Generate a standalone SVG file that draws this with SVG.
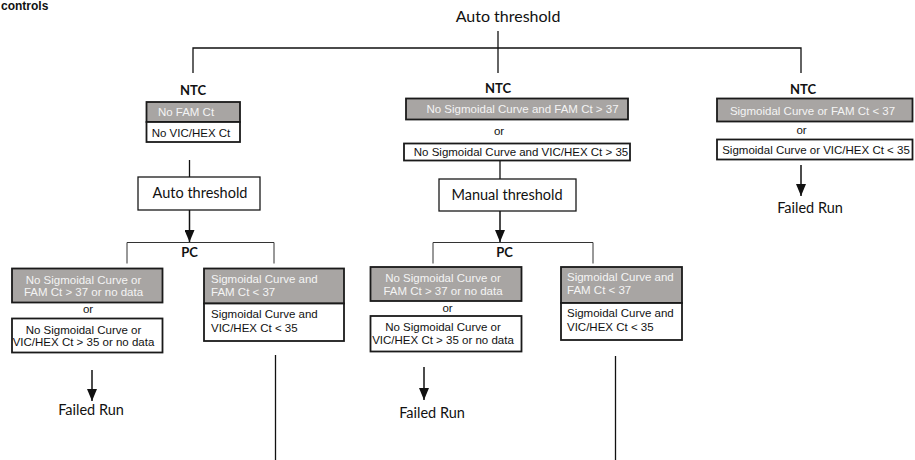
<svg xmlns="http://www.w3.org/2000/svg" width="915" height="460" viewBox="0 0 915 460">
<style>
.bg{fill:#ffffff}
.g{fill:#a8a5a3;stroke:#1a1a1a;stroke-width:1.8}
.w{fill:#ffffff;stroke:#1a1a1a;stroke-width:1.8}
.tb{fill:#ffffff;stroke:#1a1a1a;stroke-width:1.3}
.ta{font-family:"Liberation Sans",Arial,sans-serif;font-size:11.5px;fill:#111111}
.tg{font-family:"Liberation Sans",Arial,sans-serif;font-size:11.5px;fill:#f4f4f4}
.tc{font-family:Lato,"Open Sans",sans-serif;font-size:14.5px;fill:#111111}
.hb{font-family:Lato,"Open Sans",sans-serif;font-size:13px;font-weight:bold;fill:#111111}
.ln{fill:none;stroke:#111111;stroke-width:1.3}
.br{fill:none;stroke:#333333;stroke-width:1}
.ar{fill:none;stroke:#111111;stroke-width:1.5;marker-end:url(#ah)}
</style>
<defs>
<marker id="ah" viewBox="0 0 12 10" markerWidth="12" markerHeight="10" refX="12" refY="5" orient="auto" markerUnits="userSpaceOnUse">
<path d="M0,0 L12,5 L0,10 z" fill="#111111"/>
</marker>
</defs>
<rect class="bg" x="0" y="0" width="915" height="460"/>
<text x="1" y="10" style="font-family:'Liberation Sans',Arial,sans-serif;font-size:12px;font-weight:bold;fill:#111">controls</text>

<g id="connectors">
<line class="ln" x1="498" y1="31" x2="498" y2="73"/>
<path class="ln" d="M193,73 V48 H801 V73"/>
<line class="ln" x1="189.5" y1="160" x2="189.5" y2="177"/>
<line class="ar" x1="189.5" y1="210" x2="189.5" y2="242"/>
<path class="br" d="M127,263.5 V242.5 H274 V263.5"/>
<line class="ar" x1="92" y1="370" x2="92" y2="401"/>
<line class="ln" x1="275.5" y1="355" x2="275.5" y2="460"/>
<line class="ln" x1="500" y1="160.5" x2="500" y2="179"/>
<line class="ar" x1="500" y1="211" x2="500" y2="242"/>
<path class="br" d="M433,263.5 V242.5 H593 V263.5"/>
<line class="ar" x1="424" y1="367" x2="424" y2="400"/>
<line class="ln" x1="615.5" y1="356" x2="615.5" y2="460"/>
<line class="ar" x1="801" y1="165" x2="801" y2="196"/>
</g>

<g id="top-auto-threshold">
<text class="tc" x="508" y="22" text-anchor="middle" style="font-size:16px">Auto threshold</text>
</g>

<g id="ntc-left">
<text class="hb" x="193" y="95" text-anchor="middle">NTC</text>
<rect class="g" x="146.5" y="102" width="93.5" height="20"/>
<rect class="w" x="146.5" y="122" width="93.5" height="20"/>
<text class="tg" x="186" y="116" text-anchor="middle">No FAM Ct</text>
<text class="ta" x="191" y="136.5" text-anchor="middle">No VIC/HEX Ct</text>
</g>

<g id="auto-threshold-left">
<rect class="tb" x="138" y="177" width="122" height="33"/>
<text class="tc" x="200" y="198" text-anchor="middle">Auto threshold</text>
</g>

<g id="pc-left">
<text class="hb" x="189.5" y="257" text-anchor="middle">PC</text>
</g>

<g id="pc-left-fail">
<rect class="g" x="12" y="268.5" width="150.5" height="34"/>
<text class="tg" x="83.5" y="283.5" text-anchor="middle">No Sigmoidal Curve or</text>
<text class="tg" x="83.5" y="296" text-anchor="middle">FAM Ct &gt; 37 or no data</text>
<text class="ta" x="88" y="313" text-anchor="middle">or</text>
<rect class="w" x="12" y="318.5" width="150.5" height="34"/>
<text class="ta" x="83.5" y="333.5" text-anchor="middle">No Sigmoidal Curve or</text>
<text class="ta" x="83.5" y="346" text-anchor="middle">VIC/HEX Ct &gt; 35 or no data</text>
</g>

<g id="failed-run-left">
<text class="tc" x="91" y="415" text-anchor="middle">Failed Run</text>
</g>

<g id="pc-left-pass">
<rect class="g" x="204" y="268.5" width="140" height="35"/>
<rect class="w" x="204" y="303.5" width="140" height="37.5"/>
<text class="tg" x="211" y="283">Sigmoidal Curve and</text>
<text class="tg" x="211" y="295.5">FAM Ct &lt; 37</text>
<text class="ta" x="211" y="317.5">Sigmoidal Curve and</text>
<text class="ta" x="211" y="331.5">VIC/HEX Ct &lt; 35</text>
</g>

<g id="ntc-middle">
<text class="hb" x="498" y="92.5" text-anchor="middle">NTC</text>
<rect class="g" x="406" y="98.5" width="222" height="21"/>
<text class="tg" x="522.5" y="113" text-anchor="middle">No Sigmoidal Curve and FAM Ct &gt; 37</text>
<text class="ta" x="499" y="134.5" text-anchor="middle">or</text>
<rect class="w" x="404" y="143.5" width="226" height="17"/>
<text class="ta" x="521" y="155.5" text-anchor="middle">No Sigmoidal Curve and VIC/HEX Ct &gt; 35</text>
</g>

<g id="manual-threshold">
<rect class="tb" x="439" y="179" width="137" height="32"/>
<text class="tc" x="507" y="200" text-anchor="middle">Manual threshold</text>
</g>

<g id="pc-middle">
<text class="hb" x="504.5" y="256.5" text-anchor="middle">PC</text>
</g>

<g id="pc-middle-fail">
<rect class="g" x="370.5" y="267" width="151" height="34"/>
<text class="tg" x="443" y="282" text-anchor="middle">No Sigmoidal Curve or</text>
<text class="tg" x="443" y="294.5" text-anchor="middle">FAM Ct &gt; 37 or no data</text>
<text class="ta" x="447.5" y="311.5" text-anchor="middle">or</text>
<rect class="w" x="370.5" y="316" width="151" height="35.5"/>
<text class="ta" x="443" y="331" text-anchor="middle">No Sigmoidal Curve or</text>
<text class="ta" x="443" y="344" text-anchor="middle">VIC/HEX Ct &gt; 35 or no data</text>
</g>

<g id="failed-run-middle">
<text class="tc" x="432" y="418" text-anchor="middle">Failed Run</text>
</g>

<g id="pc-middle-pass">
<rect class="g" x="561" y="267" width="121" height="36"/>
<rect class="w" x="561" y="303" width="121" height="37"/>
<text class="tg" x="567" y="280.5">Sigmoidal Curve and</text>
<text class="tg" x="567" y="293.5">FAM Ct &lt; 37</text>
<text class="ta" x="567" y="317">Sigmoidal Curve and</text>
<text class="ta" x="567" y="330.5">VIC/HEX Ct &lt; 35</text>
</g>

<g id="ntc-right">
<text class="hb" x="803" y="94" text-anchor="middle">NTC</text>
<rect class="g" x="717" y="98.5" width="195.5" height="23"/>
<text class="tg" x="812.5" y="115" text-anchor="middle">Sigmoidal Curve or FAM Ct &lt; 37</text>
<text class="ta" x="801.5" y="134" text-anchor="middle">or</text>
<rect class="w" x="717" y="139.5" width="195.5" height="20"/>
<text class="ta" x="816" y="154" text-anchor="middle">Sigmoidal Curve or VIC/HEX Ct &lt; 35</text>
</g>

<g id="failed-run-right">
<text class="tc" x="810" y="212.5" text-anchor="middle">Failed Run</text>
</g>
</svg>
